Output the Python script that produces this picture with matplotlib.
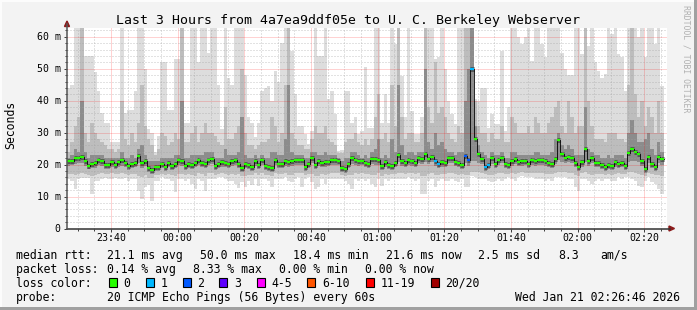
import matplotlib
matplotlib.use("Agg")
import matplotlib.pyplot as plt
from matplotlib.patches import Rectangle, Polygon
from matplotlib.lines import Line2D
import numpy as np

W, H = 697, 310

# one column per minute (ms), 23:26:46 -> 02:26:46
median = [
    21.0, 21.2, 22.0, 22.0, 22.5, 21.0, 19.7, 20.2, 20.6, 21.4,
    21.2, 20.0, 20.0, 20.9, 20.0, 20.9, 21.4, 20.6, 19.7, 20.2,
    20.6, 22.7, 20.4, 21.2, 18.9, 18.4, 19.3, 19.3, 20.2, 19.3,
    20.6, 19.7, 20.2, 21.4, 21.2, 19.7, 20.2, 20.0, 20.6, 21.4,
    20.6, 20.2, 21.4, 21.7, 19.7, 20.2, 20.9, 20.6, 20.2, 21.2,
    21.4, 20.2, 18.9, 20.2, 20.0, 19.3, 21.2, 20.0, 21.4, 19.7,
    19.3, 18.9, 21.4, 20.2, 20.2, 21.2, 20.9, 21.2, 21.4, 21.4,
    21.4, 19.3, 20.2, 22.0, 20.0, 21.2, 20.6, 20.9, 20.9, 21.4,
    21.4, 21.2, 18.9, 18.6, 20.2, 22.0, 21.4, 21.2, 21.2, 20.6,
    20.2, 21.7, 21.7, 21.4, 19.7, 20.9, 20.0, 19.7, 20.6, 23.1,
    21.2, 20.6, 21.4, 21.2, 20.6, 22.0, 21.7, 23.3, 21.7, 22.5,
    21.2, 20.2, 20.9, 20.6, 22.0, 22.0, 20.9, 20.6, 20.0, 22.7,
    21.4, 50.0, 28.1, 23.3, 21.9, 19.3, 20.0, 22.0, 20.2, 21.4,
    22.0, 20.2, 20.0, 21.2, 21.7, 20.9, 21.2, 21.2, 20.2, 21.4,
    21.2, 21.4, 21.4, 21.2, 20.6, 20.2, 21.7, 27.7, 23.3, 22.0,
    22.5, 22.0, 20.6, 19.3, 20.9, 24.8, 21.2, 22.0, 20.6, 20.6,
    20.0, 19.3, 20.0, 19.7, 20.9, 20.2, 20.6, 19.7, 23.7, 24.8,
    23.9, 23.3, 21.2, 18.6, 22.5, 20.2, 19.3, 22.5, 21.6,
]

ping_max = [
    44, 45, 63, 63, 63, 54, 54, 54, 49, 43,
    36, 33, 33, 27, 27, 27, 63, 36, 37, 37,
    43, 63, 63, 50, 31, 30, 24, 29, 52, 52,
    37, 37, 53, 53, 63, 33, 33, 63, 63, 52,
    63, 63, 55, 63, 63, 45, 31, 63, 47, 45,
    63, 63, 63, 48, 35, 33, 28.5, 33, 43, 44,
    44.6, 40, 49.4, 46, 58, 63, 63, 55.6, 42, 32,
    32, 29.5, 26.4, 30.6, 63, 54, 54, 63, 40.5, 43,
    35.8, 24.3, 24.5, 43, 43, 33, 35, 29.5, 30.6, 50.4,
    31.6, 31.6, 63, 63, 33, 42, 33, 63, 57.7, 63,
    47.8, 34.8, 63, 36.8, 29.5, 29.5, 34.8, 63, 63, 63,
    53, 53.6, 63, 50, 40, 35.8, 32.7, 63, 63, 63,
    63, 63, 40.5, 40, 44, 44, 31.6, 35.8, 32.7, 32.7,
    55.7, 30.6, 38, 63, 63, 60, 57.7, 60, 63, 52.5,
    63, 63, 57.7, 53.6, 63, 63, 63, 63, 55, 50,
    48, 48, 63, 63, 54.6, 63, 57, 63, 52, 49.4,
    47, 48.3, 63, 61, 63, 54.6, 53.6, 43, 63, 63,
    63, 60, 63, 53.6, 63, 63, 57.7, 63, 44.7,
]

ping_up2 = [
    24, 27, 32, 35, 63, 30, 27, 33, 30, 28,
    27, 26, 25, 25, 24, 25, 40, 28, 26, 30,
    27, 33, 45, 32, 28, 26, 23, 25, 30, 29,
    26, 27, 30, 28, 63, 27, 27, 30, 32, 27,
    30, 33, 30, 30, 29, 27, 26, 38, 28, 28,
    30, 32, 50, 30, 26, 26, 25, 26, 27, 27,
    28, 35, 32, 27, 30, 45, 63, 30, 28, 26,
    26, 25, 25, 28, 32, 30, 30, 32, 28, 27,
    26, 23.5, 23.5, 27, 28, 28, 30, 27, 26, 28,
    26, 28, 35, 42, 28, 30, 27, 45, 32, 63,
    35, 28, 30, 30, 27, 27, 30, 63, 38, 33,
    52, 36, 38, 35, 30, 28, 27, 32, 30, 63,
    63, 63, 40, 32, 30, 30, 27, 30, 28, 28,
    32, 27, 27, 35, 33, 30, 30, 30, 32, 30,
    35, 33, 30, 30, 33, 35, 38, 40, 32, 30,
    40, 35, 30, 32, 32, 63, 40, 32, 28, 28,
    28, 27, 30, 30, 30, 28, 28, 27, 45, 63,
    42, 35, 40, 32, 38, 35, 30, 40, 30,
]

ping_up3 = [
    22, 23, 25, 24, 40, 24, 22, 23, 23, 23,
    23, 22, 22, 22, 22, 22, 24, 22, 22, 23,
    22, 25, 26, 23, 21, 21, 21, 21, 22, 22,
    22, 22, 23, 23, 40, 22, 22, 23, 23, 23,
    23, 24, 24, 24, 22, 22, 22, 25, 23, 23,
    23, 24, 35, 23, 22, 22, 23, 22, 23, 22,
    22, 24, 24, 23, 23, 28, 45, 24, 23, 23,
    23, 22, 22, 24, 24, 23, 23, 24, 23, 23,
    23, 22, 21, 22, 22, 24, 24, 23, 22, 23,
    22, 24, 25, 28, 22, 23, 22, 28, 24, 45,
    26, 23, 24, 24, 23, 24, 24, 50, 27, 25,
    30, 26, 27, 25, 24, 24, 23, 24, 24, 40,
    50, 63, 32, 26, 24, 23, 22, 24, 23, 23,
    24, 22, 22, 24, 24, 23, 23, 23, 23, 23,
    24, 24, 23, 23, 23, 24, 28, 30, 26, 25,
    26, 25, 23, 23, 23, 38, 25, 24, 23, 23,
    22, 22, 23, 22, 23, 23, 23, 22, 30, 34,
    30, 27, 27, 28, 30, 25, 23, 27, 24,
]

ping_lo3 = [
    19.6, 19.8, 20.3, 20.4, 20.5, 19.5, 18.5, 18.8, 19.0, 19.8,
    19.7, 18.6, 18.7, 19.3, 18.6, 19.4, 19.7, 19.1, 18.3, 18.8,
    19.2, 20.6, 18.9, 19.6, 17.6, 17.2, 18.0, 18.1, 18.8, 18.0,
    19.1, 18.4, 18.8, 19.9, 19.5, 18.4, 18.9, 18.6, 19.2, 19.9,
    19.2, 18.8, 19.9, 20.1, 18.3, 18.9, 19.4, 19.2, 18.8, 19.7,
    19.9, 18.8, 17.6, 18.8, 18.7, 18.0, 19.7, 18.6, 19.9, 18.4,
    18.0, 17.6, 19.8, 18.9, 18.8, 19.6, 19.3, 19.7, 19.9, 20.0,
    19.9, 18.0, 18.8, 20.4, 18.5, 19.7, 19.2, 19.4, 19.5, 19.9,
    20.0, 19.8, 17.7, 17.4, 18.8, 20.3, 19.9, 19.7, 19.8, 19.2,
    18.8, 20.1, 20.0, 19.8, 18.3, 19.4, 18.7, 18.3, 19.1, 20.8,
    19.6, 19.2, 19.9, 19.7, 19.2, 20.4, 20.1, 20.9, 20.2, 20.8,
    19.6, 18.8, 19.4, 19.2, 20.4, 20.5, 19.5, 19.1, 18.6, 20.5,
    19.6, 21.0, 21.2, 20.6, 20.2, 18.0, 18.6, 20.3, 18.8, 19.9,
    20.4, 18.8, 18.7, 19.7, 20.1, 19.5, 19.7, 19.8, 18.9, 19.9,
    19.7, 19.9, 20.0, 19.7, 19.2, 18.8, 20.1, 21.5, 20.8, 20.4,
    20.8, 20.4, 19.1, 18.0, 19.4, 20.9, 19.7, 20.4, 19.2, 19.1,
    18.6, 18.0, 18.7, 18.4, 19.4, 18.8, 19.2, 18.3, 20.9, 21.2,
    21.0, 20.8, 19.7, 17.3, 20.6, 18.8, 18.0, 20.5, 20.0,
]

ping_lo2 = [
    17.2, 17.0, 16.6, 17.1, 17.3, 17.2, 16.8, 16.5, 16.7, 17.2,
    17.3, 17.1, 17.0, 17.3, 17.0, 17.2, 17.4, 17.1, 16.8, 17.0,
    17.1, 16.4, 16.2, 16.6, 15.8, 15.9, 16.7, 16.9, 17.2, 16.9,
    17.1, 16.8, 16.4, 17.2, 17.1, 16.9, 17.1, 16.7, 16.5, 17.3,
    17.0, 16.4, 17.3, 17.4, 16.9, 17.2, 17.3, 17.0, 16.9, 17.2,
    16.8, 17.1, 16.5, 16.4, 16.9, 16.9, 17.3, 16.6, 17.4, 16.9,
    16.7, 16.5, 17.3, 17.0, 17.0, 17.3, 16.9, 16.7, 17.3, 17.4,
    17.3, 16.8, 17.2, 17.1, 16.4, 16.5, 17.1, 16.8, 17.2, 17.4,
    17.4, 17.3, 16.6, 16.4, 16.8, 16.6, 17.4, 17.2, 17.3, 17.0,
    17.1, 16.8, 16.6, 17.3, 16.5, 17.2, 16.9, 17.0, 17.1, 17.5,
    17.3, 17.1, 17.4, 17.3, 17.0, 17.4, 16.3, 16.4, 17.2, 17.5,
    16.8, 16.8, 17.2, 17.0, 17.3, 17.4, 17.0, 16.9, 17.1, 16.6,
    16.7, 17.8, 17.8, 17.6, 17.4, 17.0, 16.9, 16.9, 17.0, 17.3,
    17.4, 17.1, 17.2, 17.3, 17.1, 17.4, 17.6, 17.5, 17.3, 17.5,
    17.3, 17.4, 17.4, 17.2, 17.2, 17.0, 17.5, 17.8, 17.7, 17.6,
    17.5, 17.4, 16.8, 16.4, 17.3, 17.6, 17.2, 16.9, 17.1, 17.1,
    17.0, 16.9, 17.1, 16.9, 17.1, 17.3, 17.2, 17.1, 17.6, 17.7,
    17.5, 17.2, 16.8, 16.5, 17.5, 17.0, 16.7, 16.6, 16.3,
]

ping_min = [
    15.5, 15.0, 12.4, 15.5, 15.8, 15.8, 15.8, 10.8, 15.0, 15.0,
    15.5, 15.8, 15.5, 15.5, 15.8, 15.5, 15.5, 15.8, 15.0, 15.5,
    15.5, 11.8, 9.2, 12.9, 13.5, 8.7, 15.0, 15.0, 16.0, 15.5,
    15.5, 15.0, 11.3, 15.5, 15.5, 15.0, 15.5, 13.9, 12.4, 15.5,
    15.0, 11.8, 15.5, 15.5, 15.5, 16.0, 16.0, 15.5, 15.0, 15.0,
    13.9, 12.8, 14.4, 12.9, 15.0, 13.5, 15.5, 13.4, 15.5, 15.5,
    15.0, 13.0, 15.5, 15.5, 15.5, 16.0, 15.0, 14.4, 15.5, 16.0,
    13.0, 15.5, 16.0, 14.4, 12.4, 12.9, 15.5, 13.9, 15.5, 15.5,
    15.5, 15.5, 15.5, 15.0, 13.9, 12.4, 15.5, 15.0, 15.5, 15.0,
    15.5, 13.9, 12.9, 15.5, 13.4, 15.5, 15.0, 15.5, 15.5, 15.5,
    15.5, 15.5, 16.0, 15.5, 15.0, 15.5, 10.8, 10.8, 15.0, 15.5,
    12.9, 15.0, 15.5, 15.0, 15.0, 15.5, 15.0, 14.4, 15.5, 12.9,
    12.9, 16.5, 16.0, 15.5, 15.5, 15.5, 15.0, 14.4, 15.0, 15.5,
    15.0, 15.5, 16.0, 15.5, 15.0, 16.0, 16.5, 16.0, 16.0, 16.0,
    15.5, 15.5, 15.5, 15.0, 15.5, 15.0, 16.0, 16.0, 16.0, 16.0,
    15.5, 15.5, 12.9, 11.8, 15.5, 15.5, 15.0, 13.9, 15.0, 15.5,
    15.0, 15.5, 15.5, 15.0, 15.0, 16.0, 15.5, 16.0, 16.0, 15.5,
    15.0, 13.4, 12.9, 15.0, 16.0, 14.4, 13.9, 12.4, 10.8,
]

# packet loss per minute (only non-zero minutes listed)
loss_cols = [110, 111, 119, 120, 121, 125, 126]
loss_vals = [1, 1, 2, 2, 1, 1, 1]

loss_labels = ["0", "1", "2", "3", "4-5", "6-10", "11-19", "20/20"]
loss_colors = ["#26ff00", "#00b8ff", "#0059ff", "#5e00ff", "#ff00ff", "#ff5500", "#ff0000", "#a10000"]

xtick_labels = ["23:40", "00:00", "00:20", "00:40", "01:00", "01:20", "01:40", "02:00", "02:20"]
ytick_labels = ["0", "10 m", "20 m", "30 m", "40 m", "50 m", "60 m"]

title = "Last 3 Hours from 4a7ea9ddf05e to U. C. Berkeley Webserver"

MONO = "DejaVu Sans Mono"


def fx(px):
    return px / W


def fy(py):
    return 1 - py / H


def txt(px, py, s, **kw):
    kw.setdefault("family", MONO)
    kw.setdefault("color", "black")
    return fig.text(fx(px), fy(py), s, **kw)


fig = plt.figure(figsize=(W / 100, H / 100), dpi=100, facecolor="#f3f3f3")

# canvas: x from 67 to 667 px, y from 228.5 (0) to 28 px
ax = fig.add_axes([fx(67), fy(228.5), 600 / W, 200.5 / H])
ax.set_xlim(0, 180)
ax.set_ylim(0, 62.75)
ax.set_facecolor("white")
for s in ax.spines.values():
    s.set_visible(False)

med = np.array(median)
x = np.arange(len(med))
pmax, pmin = np.array(ping_max), np.array(ping_min)
up2, lo2 = np.array(ping_up2), np.array(ping_lo2)
up3, lo3 = np.array(ping_up3), np.array(ping_lo3)

# smoke
ax.bar(x, pmax - pmin, bottom=pmin, width=1, align="edge", color="#dddddd", lw=0, zorder=1)
ax.bar(x, up2 - lo2, bottom=lo2, width=1, align="edge", color="#bdbdbd", lw=0, zorder=1.1)
ax.bar(x, up3 - lo3, bottom=lo3, width=1, align="edge", color="#8c8c8c", lw=0, zorder=1.2)
ax.hlines(med, x, x + 1, color="#555555", lw=3.6, zorder=1.3)

# grid
first = 13.233  # 23:40 relative to the left edge
ax.set_xticks(first + 20 * np.arange(9))
ax.set_xticks(np.arange(first - 10, 180, 5), minor=True)
ax.set_yticks(np.arange(0, 61, 10))
ax.set_yticks(np.arange(0, 63, 2), minor=True)
ax.set_axisbelow(False)
ax.grid(which="minor", color="#a0a0a0", alpha=0.6, ls=(0, (1, 2)), lw=0.72)
ax.grid(which="major", color="#ff0000", alpha=0.35, ls=(0, (1, 1)), lw=0.72)
ax.tick_params(which="major", length=2.2, width=0.72, color="#404040", direction="out",
               labelbottom=False, labelleft=False)
ax.tick_params(which="minor", length=1.4, width=0.72, color="#404040", direction="out")

# median line, coloured by loss
ax.step(np.append(x, x[-1] + 1), np.append(med, med[-1]), where="post", color="black", lw=0.6, zorder=3)
line_colors = [loss_colors[0]] * len(med)
for c, v in zip(loss_cols, loss_vals):
    line_colors[c] = loss_colors[v]
ax.hlines(med, x, x + 1, colors=line_colors, lw=1.6, zorder=4)

# axes with arrows
fig.add_artist(Line2D([fx(67), fx(670)], [fy(228.5), fy(228.5)], color="#333333", lw=1.1))
fig.add_artist(Line2D([fx(67), fx(67)], [fy(228.5), fy(24)], color="#555555", lw=1.1))
fig.add_artist(Polygon([(fx(64.5), fy(26.5)), (fx(69.5), fy(26.5)), (fx(67), fy(21))],
                       closed=True, color="#8b1a1a", transform=fig.transFigure))
fig.add_artist(Polygon([(fx(669), fy(226)), (fx(669), fy(231)), (fx(674.5), fy(228.5))],
                       closed=True, color="#8b1a1a", transform=fig.transFigure))

# tick labels
for i, lab in enumerate(xtick_labels):
    xp = 67 + (first + 20 * i) * 600 / 180
    txt(xp, 241, lab, ha="center", va="baseline", size=7.1)
for i, lab in enumerate(ytick_labels):
    yp = 228.5 - 10 * i * 3.195
    txt(60.5, yp + 3.6, lab, ha="right", va="baseline", size=7.1)

txt(347.5, 24, title, ha="center", va="baseline", size=9.5)
txt(11, 125, "Seconds", ha="center", va="center", rotation=90, size=8.3)
txt(686, 59, "RRDTOOL / TOBI OETIKER", ha="center", va="center", rotation=270, size=5.9, color="#b0b0b0")

# legend
LS = 8.3
txt(16, 259, "median rtt:", size=LS, va="baseline")
txt(107, 259, "21.1 ms avg", size=LS, va="baseline")
txt(200, 259, "50.0 ms max", size=LS, va="baseline")
txt(293, 259, "18.4 ms min", size=LS, va="baseline")
txt(386, 259, "21.6 ms now", size=LS, va="baseline")
txt(478, 259, "2.5 ms sd", size=LS, va="baseline")
txt(558, 259, "8.3", size=LS, va="baseline")
txt(600, 259, "am/s", size=LS, va="baseline")

txt(16, 273, "packet loss:", size=LS, va="baseline")
txt(107, 273, "0.14 % avg", size=LS, va="baseline")
txt(193, 273, "8.33 % max", size=LS, va="baseline")
txt(279, 273, "0.00 % min", size=LS, va="baseline")
txt(365, 273, "0.00 % now", size=LS, va="baseline")

txt(16, 287, "loss color:", size=LS, va="baseline")
box_x = [108.7, 146, 182.7, 219.3, 256.7, 307.3, 365.7, 430.7]
for bx, lab, col in zip(box_x, loss_labels, loss_colors):
    fig.add_artist(Rectangle((fx(bx), fy(286.7)), 8 / W, 9 / H, facecolor=col,
                             edgecolor="black", lw=0.8, transform=fig.transFigure))
    txt(bx + 14.5, 287, lab, size=LS, va="baseline")

txt(16, 300.7, "probe:", size=LS, va="baseline")
txt(107, 300.7, "20 ICMP Echo Pings (56 Bytes) every 60s", size=LS, va="baseline")
txt(680, 300.7, "Wed Jan 21 02:26:46 2026", size=LS, va="baseline", ha="right")

# 3d frame of the image
fig.add_artist(Rectangle((0, 0), 1, 3 / H, color="#a0a0a0", lw=0, transform=fig.transFigure))
fig.add_artist(Rectangle((fx(694), 0), 3 / W, 1, color="#a0a0a0", lw=0, transform=fig.transFigure))
fig.add_artist(Rectangle((0, fy(2)), fx(694), 2 / H, color="#fcfcfc", lw=0, transform=fig.transFigure))
fig.add_artist(Rectangle((0, 3 / H), 2 / W, 1, color="#fcfcfc", lw=0, transform=fig.transFigure))

fig.savefig("out.png", dpi=100, facecolor=fig.get_facecolor())
